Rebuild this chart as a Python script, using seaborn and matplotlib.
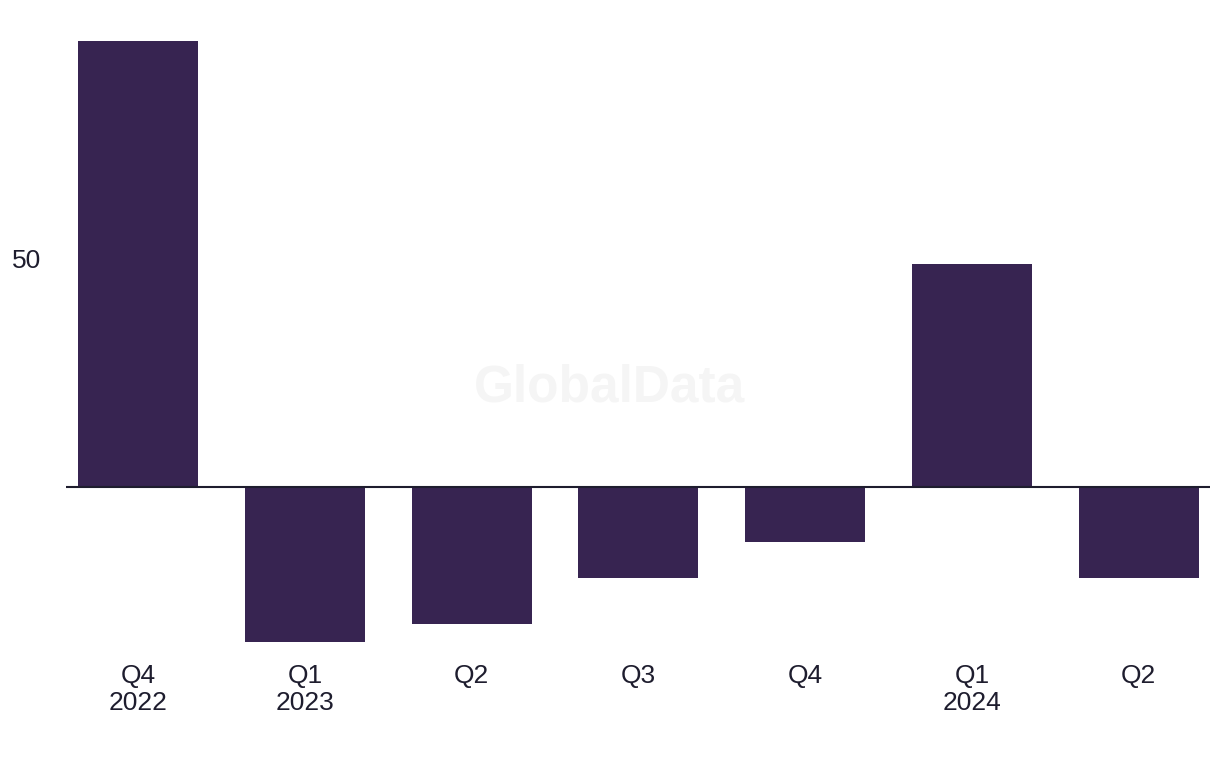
import pandas as pd
import seaborn as sns
import matplotlib.pyplot as plt

# Quarterly values
quarters = ['Q4\n2022', 'Q1\n2023', 'Q2', 'Q3', 'Q4', 'Q1\n2024', 'Q2']
values = [97.8, -34.0, -30.0, -19.9, -12.0, 48.9, -19.9]
y_ticks = [50]

df = pd.DataFrame({'quarter': quarters, 'value': values})
df['pos'] = range(len(df))

sns.set_theme(style='white')
plt.rcParams['font.family'] = ['Liberation Sans', 'DejaVu Sans']

bar_color = '#372451'
text_color = '#1e1d2e'

fig = plt.figure(figsize=(12.2, 7.68), dpi=100)
ax = fig.add_axes([0.0541, 0.1523, 0.9377, 0.8073])

sns.barplot(data=df, x='pos', y='value', color=bar_color, saturation=1,
            width=0.72, linewidth=0, ax=ax)

ax.axhline(0, color=text_color, linewidth=1.5, zorder=3)

ax.set_xlim(-0.432, 6.427)
ax.set_ylim(-36, 100)
ax.set_yticks(y_ticks)
ax.set_yticklabels([str(t) for t in y_ticks])
ax.set_xticks(df['pos'])
ax.set_xticklabels(df['quarter'], linespacing=1.2)
ax.tick_params(axis='y', length=0, pad=18, labelsize=19, colors=text_color)
ax.tick_params(axis='x', length=0, pad=9, labelsize=19, colors=text_color)
ax.set_xlabel('')
ax.set_ylabel('')
sns.despine(ax=ax, left=True, bottom=True)

# watermark
fig.text(0.5, 0.495, 'GlobalData', fontsize=37, fontweight='bold',
         color='#f5f5f5', ha='center', va='center', zorder=0)

fig.savefig('out.png', dpi=100)
